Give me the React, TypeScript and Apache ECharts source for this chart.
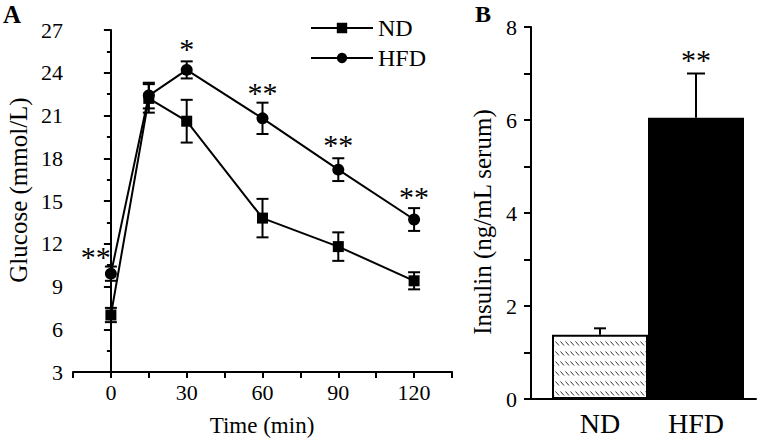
import React, { useEffect, useRef } from "react";
import * as echarts from "echarts";

// Panel A: glucose tolerance
const times = [0, 15, 30, 60, 90, 120];
const ndGlucose = [7.0, 22.2, 20.6, 13.8, 11.8, 9.4];
const ndGlucoseErr = [0.5, 1.0, 1.5, 1.35, 1.0, 0.6];
const hfdGlucose = [9.9, 22.4, 24.2, 20.8, 17.2, 13.7];
const hfdGlucoseErr = [0.5, 0.9, 0.6, 1.1, 0.8, 0.8];
const glucoseStarX = [-6, 30, 60, 90, 120];
const glucoseStarY = [11.1, 25.7, 22.6, 19.0, 15.3];
const glucoseStarText = ["**", "*", "**", "**", "**"];

// Panel B: insulin
const groups = ["ND", "HFD"];
const insulin = [1.38, 6.05];
const insulinErr = [0.14, 0.95];
const insulinStarIndex = [1];
const insulinStarY = [7.3];
const insulinStarText = ["**"];

const FONT = "'Liberation Serif', 'Times New Roman', serif";
const capHalfB = [6, 9];

const hatchSvg =
  "<svg xmlns='http://www.w3.org/2000/svg' width='5' height='10'>" +
  "<rect width='5' height='10' fill='white'/>" +
  "<line x1='0.5' y1='1.5' x2='4' y2='5.5' stroke='#333' stroke-width='1'/></svg>";
const hatchUrl = "data:image/svg+xml;utf8," + encodeURIComponent(hatchSvg);

export default function App() {
  const ref = useRef<HTMLDivElement>(null);
  useEffect(() => {
    if (!ref.current) return;
    const chart = echarts.init(ref.current, null, { renderer: "svg" });
    const errA = (mean: number[], err: number[]) =>
      times.map((t, i) => [t, mean[i], err[i]]);
    const errRender = (params: any, api: any) => {
      const x = api.value(0);
      const m = api.value(1);
      const e = api.value(2);
      const top = api.coord([x, m + e]);
      const bot = api.coord([x, m - e]);
      const h = 6;
      const st = { stroke: "#000", lineWidth: 2 };
      return {
        type: "group",
        children: [
          { type: "line", shape: { x1: top[0], y1: top[1], x2: bot[0], y2: bot[1] }, style: st },
          { type: "line", shape: { x1: top[0] - h, y1: top[1], x2: top[0] + h, y2: top[1] }, style: st },
          { type: "line", shape: { x1: bot[0] - h, y1: bot[1], x2: bot[0] + h, y2: bot[1] }, style: st },
        ],
      };
    };
    const textRender = (params: any, api: any) => {
      const p = api.coord([api.value(0), api.value(1)]);
      return {
        type: "text",
        x: p[0],
        y: p[1],
        style: {
          text: api.value(2),
          font: `30px ${FONT}`,
          fill: "#000",
          textAlign: "center",
          textVerticalAlign: "middle",
        },
      };
    };
    const option: any = {
      animation: false,
      backgroundColor: "#fff",
      textStyle: { fontFamily: FONT, color: "#000" },
      graphic: [
        { type: "text", left: 3, top: 2, style: { text: "A", font: `bold 25px ${FONT}`, fill: "#000" } },
        { type: "text", left: 475, top: 2, style: { text: "B", font: `bold 24px ${FONT}`, fill: "#000" } },
        {
          type: "text",
          x: 18,
          y: 190,
          rotation: Math.PI / 2,
          style: { text: "Glucose (mmol/L)", font: `25px ${FONT}`, fill: "#000", textAlign: "center", textVerticalAlign: "middle" },
        },
        {
          type: "text",
          x: 482,
          y: 222,
          rotation: Math.PI / 2,
          style: { text: "Insulin (ng/mL serum)", font: `25px ${FONT}`, fill: "#000", textAlign: "center", textVerticalAlign: "middle" },
        },
        {
          type: "text",
          x: 262,
          y: 425,
          style: { text: "Time (min)", font: `23px ${FONT}`, fill: "#000", textAlign: "center", textVerticalAlign: "middle" },
        },
      ],
      legend: {
        data: ["ND", "HFD"],
        orient: "vertical",
        left: 305,
        top: 10,
        itemWidth: 62,
        itemHeight: 13,
        itemGap: 4,
        textStyle: { fontSize: 24, fontFamily: FONT, color: "#000", lineHeight: 26 },
      },
      grid: [
        { left: 73, top: 30, width: 379, height: 342 },
        { left: 531, top: 27, width: 225, height: 372 },
        { left: 552, top: 27, width: 192, height: 372 },
      ],
      xAxis: [
        {
          type: "value",
          gridIndex: 0,
          min: -15,
          max: 135,
          interval: 15,
          axisLine: { lineStyle: { color: "#000", width: 2 } },
          axisTick: { length: 6, lineStyle: { color: "#000", width: 2 } },
          axisLabel: {
            fontSize: 22,
            fontFamily: FONT,
            color: "#000",
            margin: 9,
            formatter: (v: number) => (v >= 0 && v % 30 === 0 ? String(v) : ""),
          },
          splitLine: { show: false },
        },
        {
          type: "value",
          gridIndex: 1,
          min: 0,
          max: 1,
          axisLine: { lineStyle: { color: "#000", width: 2 } },
          axisTick: { show: false },
          axisLabel: { show: false },
          splitLine: { show: false },
        },
        {
          type: "category",
          gridIndex: 2,
          data: groups,
          axisLine: { show: false },
          axisTick: { show: false },
          axisLabel: { fontSize: 28, fontFamily: FONT, color: "#000", margin: 10 },
          splitLine: { show: false },
        },
      ],
      yAxis: [
        {
          type: "value",
          gridIndex: 0,
          min: 3,
          max: 27,
          interval: 3,
          axisLine: { show: true, lineStyle: { color: "#000", width: 2 } },
          axisTick: { show: true, length: 7, lineStyle: { color: "#000", width: 2 } },
          minorTick: { show: true, splitNumber: 2, length: 4, lineStyle: { color: "#000", width: 2 } },
          axisLabel: { fontSize: 22, fontFamily: FONT, color: "#000", margin: 10 },
          splitLine: { show: false },
        },
        {
          type: "value",
          gridIndex: 1,
          min: 0,
          max: 8,
          interval: 1,
          axisLine: { show: true, lineStyle: { color: "#000", width: 2 } },
          axisTick: { show: true, length: 7, lineStyle: { color: "#000", width: 2 } },
          axisLabel: {
            fontSize: 22,
            fontFamily: FONT,
            color: "#000",
            margin: 14,
            formatter: (v: number) => (v % 2 === 0 ? String(v) : ""),
          },
          splitLine: { show: false },
        },
        { type: "value", gridIndex: 2, min: 0, max: 8, show: false },
      ],
      series: [
        {
          type: "custom",
          xAxisIndex: 0,
          yAxisIndex: 0,
          z: 1,
          renderItem: errRender,
          data: errA(ndGlucose, ndGlucoseErr),
        },
        {
          type: "custom",
          xAxisIndex: 0,
          yAxisIndex: 0,
          z: 1,
          renderItem: errRender,
          data: errA(hfdGlucose, hfdGlucoseErr),
        },
        {
          name: "ND",
          type: "line",
          xAxisIndex: 0,
          yAxisIndex: 0,
          z: 3,
          symbol: "rect",
          symbolSize: 11,
          lineStyle: { color: "#000", width: 2 },
          itemStyle: { color: "#000" },
          data: times.map((t, i) => [t, ndGlucose[i]]),
        },
        {
          name: "HFD",
          type: "line",
          xAxisIndex: 0,
          yAxisIndex: 0,
          z: 3,
          symbol: "circle",
          symbolSize: 12,
          lineStyle: { color: "#000", width: 2 },
          itemStyle: { color: "#000" },
          data: times.map((t, i) => [t, hfdGlucose[i]]),
        },
        {
          type: "custom",
          xAxisIndex: 0,
          yAxisIndex: 0,
          z: 4,
          renderItem: textRender,
          data: glucoseStarX.map((x, i) => [x, glucoseStarY[i], glucoseStarText[i]]),
        },
        {
          type: "bar",
          xAxisIndex: 2,
          yAxisIndex: 2,
          barCategoryGap: "0%",
          z: 2,
          data: insulin.map((v, i) => ({
            value: v,
            itemStyle:
              i === 0
                ? {
                    color: { image: hatchUrl, repeat: "repeat", imageWidth: 5, imageHeight: 10 },
                    borderColor: "#000",
                    borderWidth: 2,
                  }
                : { color: "#000", borderColor: "#000", borderWidth: 2 },
          })),
        },
        {
          type: "custom",
          xAxisIndex: 2,
          yAxisIndex: 2,
          z: 5,
          renderItem: (params: any, api: any) => {
            const i = api.value(0);
            const m = api.value(1);
            const e = api.value(2);
            const base = api.coord([i, m]);
            const top = api.coord([i, m + e]);
            const h = capHalfB[params.dataIndex];
            const st = { stroke: "#000", lineWidth: 2 };
            return {
              type: "group",
              children: [
                { type: "line", shape: { x1: base[0], y1: base[1], x2: top[0], y2: top[1] }, style: st },
                { type: "line", shape: { x1: top[0] - h, y1: top[1], x2: top[0] + h, y2: top[1] }, style: st },
              ],
            };
          },
          data: insulin.map((v, i) => [i, v, insulinErr[i]]),
        },
        {
          type: "custom",
          xAxisIndex: 2,
          yAxisIndex: 2,
          z: 5,
          renderItem: textRender,
          data: insulinStarIndex.map((x, i) => [x, insulinStarY[i], insulinStarText[i]]),
        },
      ],
    };
    chart.setOption(option);
    return () => chart.dispose();
  }, []);
  return (
    <div
      ref={ref}
      style={{ position: "absolute", left: 0, top: 0, width: 762, height: 439, background: "#fff" }}
    />
  );
}
